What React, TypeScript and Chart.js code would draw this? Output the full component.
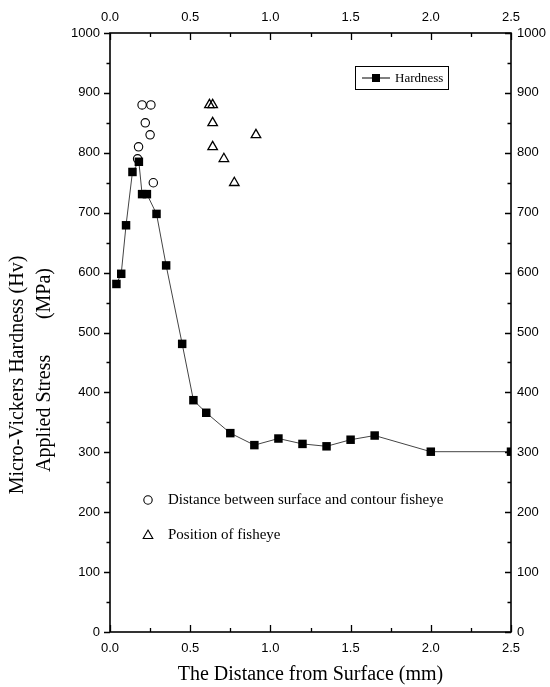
import React, { useEffect, useRef } from 'react';
import { Chart, registerables } from 'chart.js';

Chart.register(...registerables);

// Hardness profile (Micro-Vickers Hv)
const hardnessX = [0.04, 0.07, 0.1, 0.14, 0.18, 0.2, 0.23, 0.29, 0.35, 0.45, 0.52, 0.6, 0.75, 0.9, 1.05, 1.2, 1.35, 1.5, 1.65, 2.0, 2.5];
const hardnessY = [581, 598, 679, 768, 785, 731, 731, 698, 612, 481, 387, 366, 332, 312, 323, 314, 310, 321, 328, 301, 301];

// Distance between surface and contour fisheye (applied stress, MPa)
const contourX = [0.2, 0.255, 0.22, 0.25, 0.178, 0.172, 0.27];
const contourY = [880, 880, 850, 830, 810, 790, 750];

// Position of fisheye (applied stress, MPa)
const fisheyeX = [0.62, 0.64, 0.64, 0.64, 0.71, 0.775, 0.91];
const fisheyeY = [880, 880, 850, 810, 790, 750, 830];

const xMin = 0;
const xMax = 2.5;
const xStep = 0.5;
const xMinorStep = 0.25;
const yMin = 0;
const yMax = 1000;
const yStep = 100;
const yMinorStep = 50;

const hardnessLabel = 'Hardness';
const contourLabel = 'Distance between surface and contour fisheye';
const fisheyeLabel = 'Position of fisheye';
const xTitle = 'The Distance from Surface (mm)';
const yTitle1 = 'Micro-Vickers Hardness (Hv)';
const yTitle2a = 'Applied Stress';
const yTitle2b = '(MPa)';

const SERIF = '"Liberation Serif", "Times New Roman", serif';
const SANS = '"Liberation Sans", Arial, sans-serif';

const decorPlugin = {
  id: 'decor',
  afterDraw(chart: any) {
    const ctx = chart.ctx as CanvasRenderingContext2D;
    const { left, right, top, bottom } = chart.chartArea;
    const xs = chart.scales.x;
    const ys = chart.scales.y;
    ctx.save();
    ctx.strokeStyle = '#000';
    ctx.fillStyle = '#000';

    // frame
    ctx.lineWidth = 1.6;
    ctx.strokeRect(left, top, right - left, bottom - top);

    // ticks
    ctx.lineWidth = 1.3;
    ctx.beginPath();
    for (let v = yMin; v <= yMax + 1e-9; v += yMinorStep) {
      const major = Math.abs(v / yStep - Math.round(v / yStep)) < 1e-6;
      const len = major ? 6 : 3.5;
      const py = Math.round(ys.getPixelForValue(v)) + 0.5;
      ctx.moveTo(left - len, py);
      ctx.lineTo(left, py);
      ctx.moveTo(right, py);
      ctx.lineTo(right - len, py);
    }
    for (let v = xMin; v <= xMax + 1e-9; v += xMinorStep) {
      const major = Math.abs(v / xStep - Math.round(v / xStep)) < 1e-6;
      const len = major ? 7 : 4;
      const px = Math.round(xs.getPixelForValue(v)) + 0.5;
      ctx.moveTo(px, top);
      ctx.lineTo(px, top + len);
      ctx.moveTo(px, bottom);
      ctx.lineTo(px, bottom - len);
    }
    ctx.stroke();

    // legend box
    ctx.lineWidth = 1;
    ctx.strokeRect(355.5, 66.5, 93, 23);
    ctx.beginPath();
    ctx.moveTo(362, 78);
    ctx.lineTo(390, 78);
    ctx.stroke();
    ctx.fillRect(372, 74, 8, 8);
    ctx.font = '13px ' + SERIF;
    ctx.textBaseline = 'middle';
    ctx.textAlign = 'left';
    ctx.fillText(hardnessLabel, 395, 78.5);

    // annotation markers
    ctx.lineWidth = 1.1;
    ctx.beginPath();
    ctx.arc(148, 500, 4.2, 0, Math.PI * 2);
    ctx.stroke();
    ctx.beginPath();
    ctx.moveTo(148, 530);
    ctx.lineTo(152.8, 538.5);
    ctx.lineTo(143.2, 538.5);
    ctx.closePath();
    ctx.stroke();
    ctx.font = '15px ' + SERIF;
    ctx.fillText(contourLabel, 168, 500.5);
    ctx.fillText(fisheyeLabel, 168, 535.5);

    // x title
    ctx.font = '20px ' + SERIF;
    ctx.textAlign = 'center';
    ctx.fillText(xTitle, (left + right) / 2, 675);

    // y titles
    ctx.save();
    ctx.translate(18, 375);
    ctx.rotate(-Math.PI / 2);
    ctx.textAlign = 'center';
    ctx.fillText(yTitle1, 0, 0);
    ctx.restore();
    ctx.save();
    ctx.translate(45, 0);
    ctx.rotate(-Math.PI / 2);
    ctx.textAlign = 'left';
    ctx.fillText(yTitle2a, -472, 0);
    ctx.textAlign = 'right';
    ctx.fillText(yTitle2b, -268, 0);
    ctx.restore();

    ctx.restore();
  },
};

export default function App() {
  const ref = useRef<HTMLCanvasElement | null>(null);

  useEffect(() => {
    if (!ref.current) return;
    const tickFont = { family: SANS, size: 13 };
    const fmtX = (v: any) => Number(v).toFixed(1);
    const fmtY = (v: any) => String(Math.round(Number(v)));
    const chart = new Chart(ref.current, {
      type: 'scatter',
      data: {
        datasets: [
          {
            label: hardnessLabel,
            data: hardnessX.map((x, i) => ({ x, y: hardnessY[i] })),
            showLine: true,
            borderColor: '#444',
            borderWidth: 1,
            backgroundColor: '#000',
            pointStyle: 'rect',
            pointRadius: 6,
            pointBorderWidth: 0,
            pointBackgroundColor: '#000',
            tension: 0,
          },
          {
            label: contourLabel,
            data: contourX.map((x, i) => ({ x, y: contourY[i] })),
            showLine: false,
            pointStyle: 'circle',
            pointRadius: 4.2,
            pointBorderWidth: 1.1,
            pointBorderColor: '#000',
            pointBackgroundColor: 'rgba(0,0,0,0)',
          },
          {
            label: fisheyeLabel,
            data: fisheyeX.map((x, i) => ({ x, y: fisheyeY[i] })),
            showLine: false,
            pointStyle: 'triangle',
            pointRadius: 5.5,
            pointBorderWidth: 1.3,
            pointBorderColor: '#000',
            pointBackgroundColor: 'rgba(0,0,0,0)',
          },
        ],
      },
      options: {
        responsive: false,
        animation: false,
        layout: { padding: 0 },
        plugins: { legend: { display: false }, tooltip: { enabled: false } },
        scales: {
          x: {
            type: 'linear',
            position: 'bottom',
            min: xMin,
            max: xMax,
            grid: { display: false, drawTicks: false },
            border: { display: false },
            ticks: { stepSize: xStep, color: '#000', font: tickFont, padding: 9, maxRotation: 0, callback: fmtX },
            afterFit: (s: any) => { s.height = 55; },
          },
          x2: {
            type: 'linear',
            axis: 'x',
            position: 'top',
            min: xMin,
            max: xMax,
            grid: { display: false, drawTicks: false },
            border: { display: false },
            ticks: { stepSize: xStep, color: '#000', font: tickFont, padding: 8, maxRotation: 0, callback: fmtX },
            afterFit: (s: any) => { s.height = 33; },
          },
          y: {
            type: 'linear',
            position: 'left',
            min: yMin,
            max: yMax,
            grid: { display: false, drawTicks: false },
            border: { display: false },
            ticks: { stepSize: yStep, color: '#000', font: tickFont, padding: 10, callback: fmtY },
            afterFit: (s: any) => { s.width = 110; },
          },
          y2: {
            type: 'linear',
            axis: 'y',
            position: 'right',
            min: yMin,
            max: yMax,
            grid: { display: false, drawTicks: false },
            border: { display: false },
            ticks: { stepSize: yStep, color: '#000', font: tickFont, padding: 6, callback: fmtY },
            afterFit: (s: any) => { s.width = 39; },
          },
        },
      } as any,
      plugins: [decorPlugin],
    });
    return () => chart.destroy();
  }, []);

  return (
    <div style={{ position: 'fixed', left: 0, top: 0, width: 550, height: 687, background: '#fff' }}>
      <canvas ref={ref} width={550} height={687} style={{ display: 'block' }} />
    </div>
  );
}
